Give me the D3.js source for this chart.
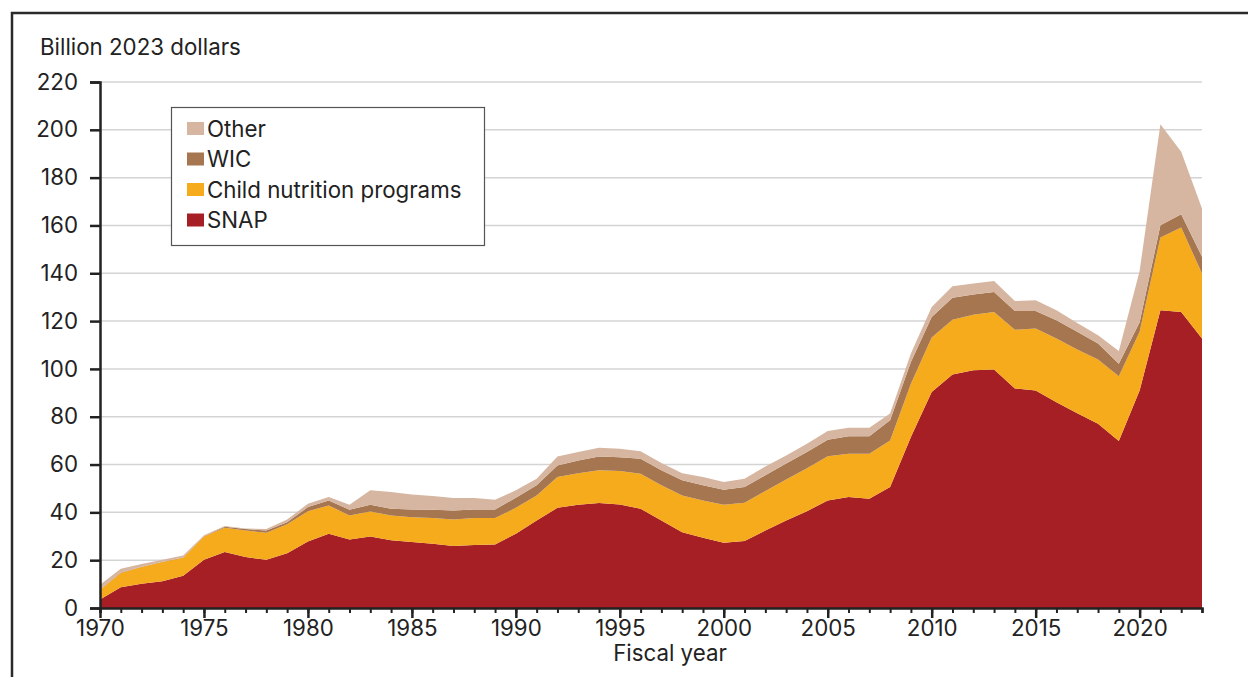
<!DOCTYPE html>
<html>
<head>
<meta charset="utf-8">
<script src="https://cdn.jsdelivr.net/npm/d3@7"></script>
<style>
  body { margin: 0; background: #fff; }
  svg { display: block; font-family: Inter, Roboto, sans-serif; }
</style>
</head>
<body>
<svg id="chart" width="1248" height="677"></svg>
<script>
const years = d3.range(1970, 2024);

// billion 2023 dollars
const snap = [3.6, 8.7, 10.1, 11.2, 13.5, 20.2, 23.4, 21.3, 20.2, 22.9,
  27.8, 31.1, 28.7, 29.9, 28.3, 27.6, 26.9, 25.9, 26.4, 26.6,
  31.1, 36.6, 41.9, 43.2, 43.9, 43.3, 41.5, 36.6, 31.7, 29.4,
  27.3, 28.0, 32.4, 36.6, 40.5, 45.0, 46.4, 45.7, 50.6, 71.5,
  90.3, 97.7, 99.4, 99.8, 91.8, 91.0, 86.1, 81.5, 77.1, 69.8,
  91.0, 124.5, 123.8, 112.7];
const childNutrition = [4.0, 5.9, 7.0, 8.0, 7.5, 9.7, 10.2, 11.1, 11.3, 12.1,
  12.7, 11.8, 10.0, 10.5, 10.4, 10.4, 10.7, 11.1, 11.2, 11.0,
  10.8, 10.5, 12.9, 13.2, 13.7, 14.0, 14.7, 14.7, 15.4, 15.6,
  15.9, 16.0, 16.5, 17.1, 18.0, 18.5, 18.1, 18.8, 19.5, 22.3,
  22.8, 22.9, 23.3, 24.0, 24.6, 25.9, 26.6, 26.6, 26.8, 27.1,
  24.5, 30.5, 35.3, 27.2];
const wic = [0.1, 0.2, 0.2, 0.1, 0.1, 0.1, 0.4, 0.6, 0.9, 0.9,
  1.7, 2.1, 2.4, 2.8, 2.8, 3.2, 3.5, 3.8, 3.6, 3.6,
  4.2, 4.2, 4.8, 5.3, 5.8, 5.8, 6.2, 6.3, 6.3, 6.3,
  6.3, 6.6, 6.6, 6.7, 6.7, 6.9, 7.3, 7.3, 8.4, 9.1,
  8.6, 9.2, 8.4, 8.4, 7.8, 7.3, 7.6, 7.4, 6.7, 5.3,
  4.0, 5.1, 5.6, 7.0];
const other = [2.0, 1.6, 1.1, 0.9, 0.9, 0.4, 0.3, 0.3, 0.6, 1.1,
  1.4, 1.4, 2.1, 6.0, 7.0, 6.3, 5.7, 5.2, 4.8, 4.1,
  3.1, 2.8, 3.8, 3.5, 3.6, 3.5, 3.2, 3.0, 3.0, 3.5,
  3.2, 3.5, 3.7, 3.4, 3.5, 3.6, 3.6, 3.6, 2.8, 3.5,
  4.2, 4.8, 4.6, 4.6, 4.2, 4.5, 4.2, 3.7, 3.5, 5.3,
  21.5, 42.2, 26.1, 20.2];

const seriesKeys = ["snap", "childNutrition", "wic", "other"];
const seriesNames = { snap: "SNAP", childNutrition: "Child nutrition programs", wic: "WIC", other: "Other" };
const colors = { snap: "#a51f24", childNutrition: "#f6ab1c", wic: "#a57650", other: "#d6b6a1" };
const yTicks = d3.range(0, 221, 20);
const xLabelTicks = d3.range(1970, 2021, 5);

const table = years.map((year, i) => ({
  year, snap: snap[i], childNutrition: childNutrition[i], wic: wic[i], other: other[i]
}));

const svg = d3.select("#chart");
const margin = { top: 82, left: 100, right: 46, bottom: 69 };
const width = 1248, height = 677;
const fontSize = 22.3;

const x = d3.scaleLinear()
  .domain([1970, 2023])
  .range([margin.left, width - margin.right]);

const y = d3.scaleLinear()
  .domain([0, 220])
  .range([height - margin.bottom, margin.top]);

// outer frame (left + top)
svg.append("path")
  .attr("d", `M12,${height} V13 H${width}`)
  .attr("fill", "none")
  .attr("stroke", "#2a2a2a")
  .attr("stroke-width", 2.5);

// gridlines
svg.append("g")
  .selectAll("line")
  .data(yTicks.filter(d => d > 0))
  .join("line")
  .attr("x1", x(1970))
  .attr("x2", x(2023))
  .attr("y1", d => y(d))
  .attr("y2", d => y(d))
  .attr("stroke", "#d4d4d4")
  .attr("stroke-width", 1.5);

const stack = d3.stack().keys(seriesKeys);
const stacked = stack(table);

const area = d3.area()
  .x(d => x(d.data.year))
  .y0(d => y(d[0]))
  .y1(d => y(d[1]));

svg.append("g")
  .selectAll("path")
  .data(stacked)
  .join("path")
  .attr("fill", d => colors[d.key])
  .attr("d", area);

// y axis
svg.append("g")
  .attr("transform", `translate(${margin.left},0)`)
  .call(d3.axisLeft(y).tickValues(yTicks).tickSize(10).tickPadding(12))
  .call(g => g.select(".domain").attr("stroke", "#222").attr("stroke-width", 2.5))
  .call(g => g.selectAll(".tick line").attr("stroke", "#222").attr("stroke-width", 2.5))
  .call(g => g.selectAll("text").attr("fill", "#222").attr("font-size", fontSize).attr("font-family", "Inter, sans-serif"));

// x axis minor + major ticks
svg.append("g")
  .attr("transform", `translate(0,${y(0)})`)
  .call(d3.axisBottom(x).tickValues(years).tickSize(5).tickFormat(""))
  .call(g => g.select(".domain").attr("stroke", "#222").attr("stroke-width", 2.5))
  .call(g => g.selectAll(".tick line").attr("stroke", "#222").attr("stroke-width", 2));

svg.append("g")
  .attr("transform", `translate(0,${y(0)})`)
  .call(d3.axisBottom(x).tickValues(xLabelTicks).tickSize(10).tickPadding(2).tickFormat(d3.format("d")))
  .call(g => g.select(".domain").remove())
  .call(g => g.selectAll(".tick line").attr("stroke", "#222").attr("stroke-width", 2.5))
  .call(g => g.selectAll("text").attr("fill", "#222").attr("font-size", fontSize).attr("font-family", "Inter, sans-serif"));

// axis titles
svg.append("text")
  .attr("x", 40)
  .attr("y", 55)
  .attr("font-size", fontSize)
  .attr("fill", "#222")
  .text("Billion 2023 dollars");

svg.append("text")
  .attr("x", 670)
  .attr("y", 661)
  .attr("text-anchor", "middle")
  .attr("font-size", fontSize)
  .attr("fill", "#222")
  .text("Fiscal year");

// legend
const legend = svg.append("g");
legend.append("rect")
  .attr("x", 171.5)
  .attr("y", 107.5)
  .attr("width", 313)
  .attr("height", 138)
  .attr("fill", "#fff")
  .attr("stroke", "#555")
  .attr("stroke-width", 1.2);

const legendOrder = ["other", "wic", "childNutrition", "snap"];
const rows = legend.selectAll("g.row")
  .data(legendOrder)
  .join("g")
  .attr("class", "row")
  .attr("transform", (d, i) => `translate(187,${122 + i * 30.5})`);

rows.append("rect")
  .attr("width", 17)
  .attr("height", 13)
  .attr("fill", d => colors[d]);

rows.append("text")
  .attr("x", 20)
  .attr("y", 14.5)
  .attr("font-size", fontSize)
  .attr("fill", "#222")
  .text(d => seriesNames[d]);
</script>
</body>
</html>
